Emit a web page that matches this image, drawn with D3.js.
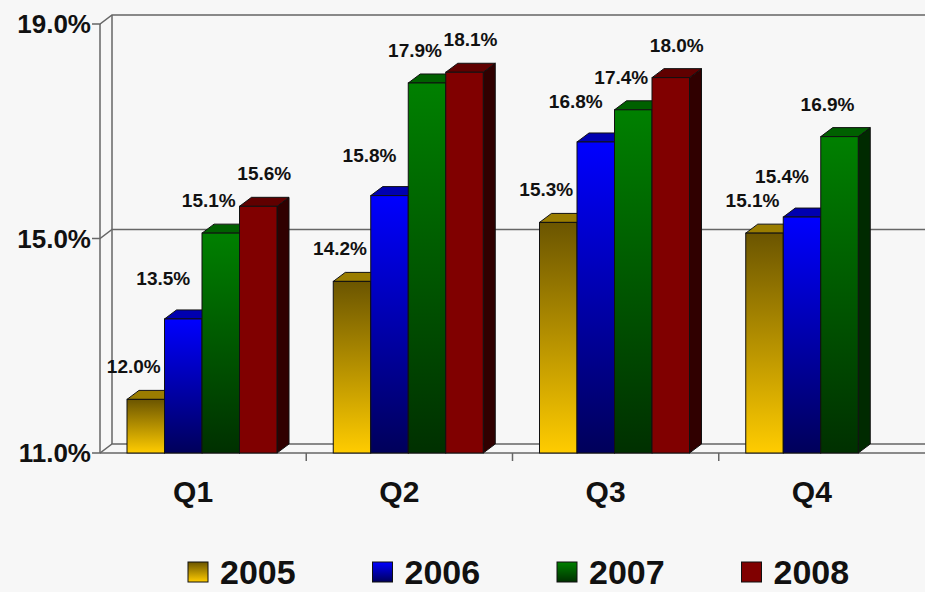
<!DOCTYPE html>
<html><head><meta charset="utf-8">
<script src="https://cdn.jsdelivr.net/npm/d3@7"></script>
<style>body{margin:0;background:#f7f7f7}text{font-family:"Liberation Sans",Arial,sans-serif;font-weight:bold;fill:#111}</style>
</head><body><svg id="c" width="925" height="592"></svg>
<script>
// data
const quarters = ["Q1", "Q2", "Q3", "Q4"];
const years = ["2005", "2006", "2007", "2008"];
const values = {
    "2005": [12.0, 14.2, 15.3, 15.1],
    "2006": [13.5, 15.8, 16.8, 15.4],
    "2007": [15.1, 17.9, 17.4, 16.9],
    "2008": [15.6, 18.1, 18.0, null]
};
const yTicks = [11, 15, 19];

const colors = {
    "2005": { top: "#6b5500", bottom: "#ffcc00", side: "#5a4800", cap: "#9a7d00" },
    "2006": { top: "#0000ff", bottom: "#00005a", side: "#00004a", cap: "#0000b0" },
    "2007": { top: "#008000", bottom: "#003000", side: "#002a00", cap: "#006000" },
    "2008": { top: "#800000", bottom: "#800000", side: "#300000", cap: "#600000" }
};
// 数值标签相对柱子的偏移
const labelShift = { "2005": -12, "2006": -20, "2007": -12, "2008": 6 };
const labelLift = { "2005": 26, "2006": 34, "2007": 26, "2008": 26 };

const svg = d3.select("#c");
const left = 100, right = 925, dx = 12, dy = -9;
const y = d3.scaleLinear().domain([11, 19]).range([453, 24]);
const x = d3.scaleBand().domain(quarters).range([left, right]);
const xs = d3.scaleBand().domain(years).range([27, 27 + 4 * 37.5]);

const defs = svg.append("defs");
years.forEach((yr, i) => {
    const g = defs.append("linearGradient").attr("id", "g" + i).attr("x1", 0).attr("y1", 0).attr("x2", 0).attr("y2", 1);
    g.append("stop").attr("offset", "0%").attr("stop-color", colors[yr].top);
    g.append("stop").attr("offset", "100%").attr("stop-color", colors[yr].bottom);
});

// 背景墙和网格
const grid = svg.append("g").attr("stroke", "#666").attr("stroke-width", 1.5).attr("fill", "none");
grid.append("line").attr("x1", left + dx).attr("x2", left + dx).attr("y1", y(19) + dy).attr("y2", y(11) + dy);
yTicks.forEach(t => {
    grid.append("path").attr("d", `M${left - 8},${y(t)}L${left},${y(t)}L${left + dx},${y(t) + dy}L${right},${y(t) + dy}`);
});
grid.append("line").attr("x1", left).attr("x2", left).attr("y1", y(19)).attr("y2", y(11));
grid.append("line").attr("x1", left).attr("x2", right).attr("y1", y(11)).attr("y2", y(11));
quarters.forEach((q, i) => {
    if (i > 0) grid.append("line").attr("x1", x(q)).attr("x2", x(q)).attr("y1", y(11)).attr("y2", y(11) + 8);
});

svg.append("g").selectAll("text").data(yTicks).join("text")
    .attr("x", left - 9).attr("y", d => y(d)).attr("dy", "0.36em")
    .attr("text-anchor", "end").attr("font-size", 26)
    .text(d => d.toFixed(1) + "%");

// 柱子
quarters.forEach((q, qi) => {
    years.forEach((yr, i) => {
        const v = values[yr][qi];
        if (v == null) return;
        const x0 = x(q) + xs(yr), w = xs.bandwidth(), yt = y(v), yb = y(11);
        const g = svg.append("g").attr("stroke", "#111").attr("stroke-width", 1);
        g.append("path").attr("fill", colors[yr].side)
            .attr("d", `M${x0 + w},${yt}L${x0 + w + dx},${yt + dy}L${x0 + w + dx},${yb + dy}L${x0 + w},${yb}Z`);
        g.append("path").attr("fill", colors[yr].cap)
            .attr("d", `M${x0},${yt}L${x0 + dx},${yt + dy}L${x0 + w + dx},${yt + dy}L${x0 + w},${yt}Z`);
        g.append("rect").attr("x", x0).attr("y", yt).attr("width", w).attr("height", yb - yt)
            .attr("fill", `url(#g${i})`);
        svg.append("text").attr("x", x0 + w / 2 + labelShift[yr]).attr("y", yt - labelLift[yr])
            .attr("text-anchor", "middle").attr("font-size", 19)
            .text(v.toFixed(1) + "%");
    });
});

svg.append("g").selectAll("text").data(quarters).join("text")
    .attr("x", d => x(d) + x.bandwidth() / 2 - 10).attr("y", 502)
    .attr("text-anchor", "middle").attr("font-size", 30).text(d => d);

// 图例
const legend = svg.append("g");
years.forEach((yr, i) => {
    const lx = 188 + i * 184.5;
    legend.append("rect").attr("x", lx).attr("y", 562).attr("width", 20).attr("height", 20)
        .attr("fill", `url(#g${i})`).attr("stroke", "#111");
    legend.append("text").attr("x", lx + 32).attr("y", 572).attr("dy", "0.36em")
        .attr("font-size", 34).text(yr);
});
</script></body></html>
